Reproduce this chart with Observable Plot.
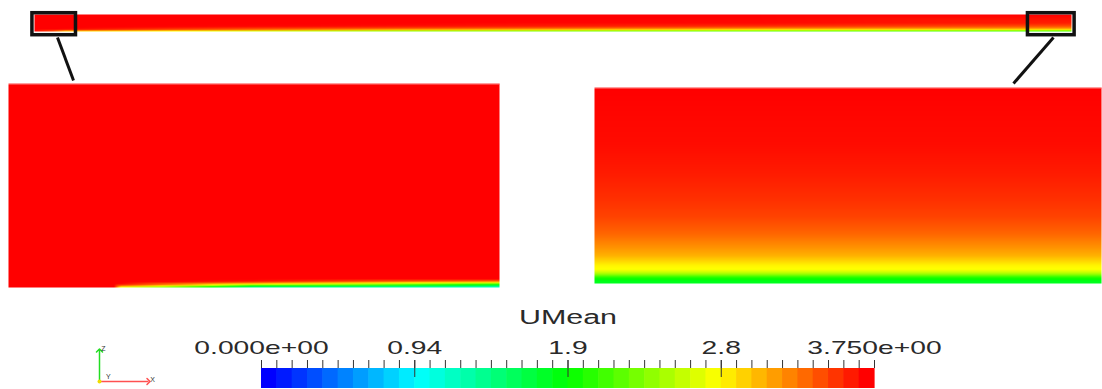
<!DOCTYPE html>
<html><head><meta charset="utf-8">
<script src="https://cdn.jsdelivr.net/npm/d3@7"></script>
<script src="https://cdn.jsdelivr.net/npm/@observablehq/plot@0.6"></script>
<style>
html,body{margin:0;padding:0;background:#fff;}
#fig{position:relative;width:1102px;height:389px;overflow:hidden;background:#fff;}
#fig > svg{position:absolute;margin:0;}
</style></head><body><div id="fig"></div>
<script>
// ================= DATA =================
const fieldName = "UMean";
const uRange = [0, 3.75];

// Overview of the whole channel: stations along the length (fraction), heights (fraction), UMean
const channelStations = [0, 0.03, 0.35, 0.7, 1];
const channelHeights  = [0, 0.05, 0.1, 0.17, 0.25, 0.35, 0.5, 1];
const channelU_000 = [3.75, 3.75, 3.75, 3.75, 3.75, 3.75, 3.75, 3.75];
const channelU_003 = [2.6, 3.3, 3.65, 3.75, 3.75, 3.75, 3.75, 3.75];
const channelU_035 = [2.0, 2.7, 3.1, 3.4, 3.6, 3.72, 3.75, 3.75];
const channelU_070 = [1.8, 2.5, 2.9, 3.2, 3.45, 3.62, 3.72, 3.75];
const channelU_100 = [1.7, 2.4, 2.85, 3.15, 3.35, 3.5, 3.64, 3.75];

// Zoomed inlet region (left inset)
const inletStations = [0, 0.215, 0.23, 0.5, 1];
const inletHeights  = [0, 0.008, 0.016, 0.024, 0.032, 0.042, 1];
const inletU_000 = [3.75, 3.75, 3.75, 3.75, 3.75, 3.75, 3.75];
const inletU_215 = [3.75, 3.75, 3.75, 3.75, 3.75, 3.75, 3.75];
const inletU_230 = [2.6, 3.3, 3.7, 3.75, 3.75, 3.75, 3.75];
const inletU_500 = [1.2, 1.9, 2.8, 3.4, 3.7, 3.75, 3.75];
const inletU_100 = [1.0, 1.5, 2.0, 2.8, 3.4, 3.75, 3.75];

// Zoomed outlet region (right inset): developed profile
const outletStations = [0, 1];
const outletHeights = [0, 0.015, 0.031, 0.046, 0.056, 0.071, 0.092, 0.112, 0.143, 0.179, 0.255, 0.337, 0.423, 0.561, 0.714, 1];
const outletU       = [1.75, 1.8, 2.0, 2.4, 2.6, 2.8, 2.85, 2.95, 3.1, 3.2, 3.38, 3.5, 3.57, 3.65, 3.71, 3.75];

// Zoom boxes on the channel (fraction of channel length)
const zoomX1 = [-0.002, 0.958];
const zoomX2 = [0.040, 1.003];

// Colour bar
const barLabelValues = [0, 0.9375, 1.875, 2.8125, 3.75];
const barLabels = ["0.000e+00", "0.94", "1.9", "2.8", "3.750e+00"];
const barMinorIntervals = 40;
const barColorBands = 40;

// Orientation triad
const triadLabels = ["X", "Z", "Y"];
const triadEndX = [1, 0, 0.1];
const triadEndY = [0, 1, 0.08];

// ================= LAYOUT / STYLE =================
const FONT = "'Liberation Sans', Arial, sans-serif";
const base = {style: {background: "transparent", overflow: "visible"}};
const color = {type: "linear", domain: uRange, clamp: true,
  interpolate: t => d3.hsl(240 * (1 - t), 1, 0.5).formatHex()};

function samples(stations, heights, table) {
  return stations.flatMap((x, i) => heights.map((h, j) => ({x, h, u: table[i][j]})));
}
const fig = document.getElementById("fig");
function place(svg, left, top) {
  svg.style.left = left + "px"; svg.style.top = top + "px";
  fig.appendChild(svg);
  return svg;
}
function stretchText(nodes, s) {
  nodes.forEach(t => {
    const tr = t.getAttribute("transform");
    if (tr && tr.includes("translate")) t.setAttribute("transform", tr + ` scale(${s},1)`);
    else {
      const x = +t.getAttribute("x") || 0, y = +t.getAttribute("y") || 0;
      t.setAttribute("transform", `translate(${x},${y}) scale(${s},1) translate(${-x},${-y})`);
    }
  });
}

// ---- channel overview ----
const channelPts = samples(channelStations, channelHeights,
  [channelU_000, channelU_003, channelU_035, channelU_070, channelU_100]);
const zoomBoxes = zoomX1.map((x1, i) => ({x1, x2: zoomX2[i]}));
place(Plot.plot({
  ...base, width: 1102, height: 46,
  marginLeft: 34, marginRight: 31, marginTop: 14, marginBottom: 15,
  x: {domain: [0, 1], axis: null}, y: {domain: [0, 1], axis: null}, color,
  marks: [
    Plot.raster(channelPts, {x: "x", y: "h", fill: "u", interpolate: "barycentric", x1: 0, x2: 1, y1: 0, y2: 1}),
    Plot.rect(zoomBoxes, {x1: "x1", x2: "x2", fill: "none", stroke: "#111", strokeWidth: 3.5, insetTop: -1.3, insetBottom: -3.7})
  ]
}), 0, 0);

// ---- inlet inset ----
const inletPts = samples(inletStations, inletHeights,
  [inletU_000, inletU_215, inletU_230, inletU_500, inletU_100]);
place(Plot.plot({
  ...base, width: 491, height: 204, margin: 0,
  x: {domain: [0, 1], axis: null}, y: {domain: [0, 1], axis: null}, color,
  marks: [
    Plot.raster(inletPts, {x: "x", y: "h", fill: "u", interpolate: "barycentric", x1: 0, x2: 1, y1: 0, y2: 1}),
    Plot.ruleY([1], {stroke: "#ffffff", strokeOpacity: 0.5, strokeWidth: 1, dy: 0.5})
  ]
}), 8, 83);

// ---- outlet inset ----
const outletPts = samples(outletStations, outletHeights, [outletU, outletU]);
place(Plot.plot({
  ...base, width: 507, height: 196, margin: 0,
  x: {domain: [0, 1], axis: null}, y: {domain: [0, 1], axis: null}, color,
  marks: [
    Plot.raster(outletPts, {x: "x", y: "h", fill: "u", interpolate: "barycentric", x1: 0, x2: 1, y1: 0, y2: 1}),
    Plot.ruleY([1], {stroke: "#ffffff", strokeOpacity: 0.5, strokeWidth: 1, dy: 0.5})
  ]
}), 594, 87);

// ---- colour bar ----
const bandStep = (uRange[1] - uRange[0]) / barColorBands;
const bands = d3.range(barColorBands);
const minorTicks = d3.range(barMinorIntervals + 1).map(i => uRange[0] + i * (uRange[1] - uRange[0]) / barMinorIntervals);
const bar = Plot.plot({
  ...base, width: 1102, height: 99,
  marginLeft: 261, marginRight: 228, marginTop: 70, marginBottom: 1,
  x: {domain: uRange, axis: null}, color,
  marks: [
    Plot.rect(bands, {x1: i => uRange[0] + i * bandStep, x2: i => uRange[0] + (i + 1) * bandStep,
      fill: i => uRange[0] + i * (uRange[1] - uRange[0]) / (barColorBands - 1), insetTop: 8, insetRight: -0.6}),
    Plot.ruleX(minorTicks, {x: d => d, insetBottom: 20, stroke: "#333", strokeWidth: 1}),
    Plot.ruleX(barLabelValues.slice(1, -1), {x: d => d, insetBottom: 11, stroke: "#333", strokeWidth: 1}),
    Plot.text(barLabelValues, {x: d => d, text: (d, i) => barLabels[i], frameAnchor: "top", lineAnchor: "bottom",
      dy: -7, fontSize: 18, fontFamily: FONT, fill: "#2a2a2a", className: "tick-label"}),
    Plot.text([fieldName], {x: () => (uRange[0] + uRange[1]) / 2, text: d => d, frameAnchor: "top", lineAnchor: "bottom",
      dy: -37, fontSize: 21, fontFamily: FONT, fill: "#2a2a2a", className: "bar-title"})
  ]
});
stretchText(bar.querySelectorAll(".tick-label text"), 1.57);
stretchText(bar.querySelectorAll(".bar-title text"), 1.45);
place(bar, 0, 290);

// ---- orientation triad ----
const triad = triadLabels.map((label, i) => ({label, x: triadEndX[i], y: triadEndY[i]}));
place(Plot.plot({
  ...base, width: 70, height: 49,
  marginLeft: 9, marginRight: 12, marginTop: 10, marginBottom: 8,
  x: {domain: [0, 1], axis: null}, y: {domain: [0, 1], axis: null},
  marks: [
    Plot.link(triad.slice(0, 2), {x1: 0, y1: 0, x2: "x", y2: "y",
      stroke: d => d.label === "X" ? "#ff5050" : "#22dd22", strokeWidth: 1.5, markerEnd: "arrow"}),
    Plot.dot([0], {x: 0, y: 0, r: 2, fill: "#eedd00"}),
    Plot.text(triad, {x: "x", y: "y", text: "label", dx: 4, dy: -2, fontSize: 7, fontFamily: FONT, fill: "#333"})
  ]
}), 90, 340);

// ---- connector lines from zoom boxes to insets ----
const connX1 = [57, 1053], connY1 = [37, 37], connX2 = [73, 1013], connY2 = [80, 83];
place(Plot.plot({
  ...base, width: 1102, height: 389, margin: 0,
  x: {domain: [0, 1102], range: [0, 1102], axis: null}, y: {domain: [0, 389], range: [0, 389], axis: null},
  marks: [
    Plot.link(connX1.map((x, i) => i), {x1: i => connX1[i], y1: i => connY1[i], x2: i => connX2[i], y2: i => connY2[i],
      stroke: "#111", strokeWidth: 3})
  ]
}), 0, 0);
</script></body></html>
